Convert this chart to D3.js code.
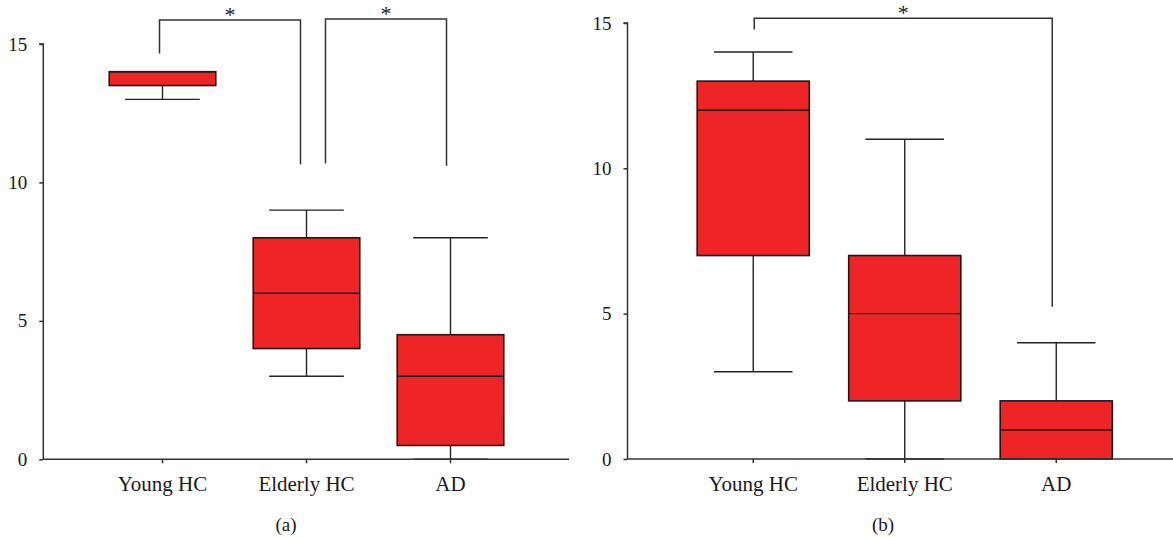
<!DOCTYPE html>
<html>
<head>
<meta charset="utf-8">
<script src="https://cdn.jsdelivr.net/npm/d3@7"></script>
<style>
  body { margin: 0; background: #fff; }
  svg { display: block; }
  text { font-family: "Liberation Serif", "DejaVu Serif", serif; fill: #1a1a1a; }
</style>
</head>
<body>
<script>
// categories shared by both panels
const groups = ['Young HC', 'Elderly HC', 'AD'];
const yTicks = [0, 5, 10, 15];

// panel (a): [min, q1, median, q3, max]
const statsA = [
    [13, 13.5, 14, 14, 14],
    [3, 4, 6, 8, 9],
    [0, 0.5, 3, 4.5, 8]
];
// panel (b)
const statsB = [
    [3, 7, 12, 13, 14],
    [0, 2, 5, 7, 11],
    [0, 0, 1, 2, 4]
];

// significance brackets: from group, to group, top value, left leg end, right leg end
const bracketsA = [
    { from: 'Young HC', to: 'Elderly HC', top: 15.87, left: 14.66, right: 10.66, dl: -3, dr: -6 },
    { from: 'Elderly HC', to: 'AD', top: 15.9, left: 10.68, right: 10.6, dl: 19, dr: -4 }
];
const bracketsB = [
    { from: 'Young HC', to: 'AD', top: 15.16, left: 14.78, right: 5.24, dl: 1, dr: -4 }
];

const svg = d3.select('body')
    .append('svg')
    .attr('width', 1173)
    .attr('height', 537);

function drawPanel(cfg) {
    const g = svg.append('g');

    const x = d3.scaleBand().domain(groups).range(cfg.xRange);
    const y = d3.scaleLinear().domain([0, 15]).range(cfg.yRange);
    const cx = (d) => x(d) + x.bandwidth() / 2;
    const boxW = x.bandwidth() * 0.74;
    const capW = boxW * 0.7;

    const data = groups.map((name, i) => ({
        name,
        min: cfg.stats[i][0],
        q1: cfg.stats[i][1],
        med: cfg.stats[i][2],
        q3: cfg.stats[i][3],
        max: cfg.stats[i][4]
    }));

    // whiskers first so the box sits on top
    const box = g.selectAll('.box')
        .data(data)
        .enter()
        .append('g')
        .attr('class', 'box');

    box.append('line')
        .attr('x1', (d) => cx(d.name)).attr('x2', (d) => cx(d.name))
        .attr('y1', (d) => y(d.min)).attr('y2', (d) => y(d.max))
        .attr('stroke', '#222').attr('stroke-width', 1.4);

    ['min', 'max'].forEach((k) => {
        box.filter((d) => d[k] !== d.q1 && d[k] !== d.q3)
            .append('line')
            .attr('x1', (d) => cx(d.name) - capW / 2).attr('x2', (d) => cx(d.name) + capW / 2)
            .attr('y1', (d) => y(d[k])).attr('y2', (d) => y(d[k]))
            .attr('stroke', '#222').attr('stroke-width', 1.4);
    });

    box.append('rect')
        .attr('x', (d) => cx(d.name) - boxW / 2)
        .attr('width', boxW)
        .attr('y', (d) => y(d.q3))
        .attr('height', (d) => y(d.q1) - y(d.q3))
        .attr('fill', '#ee2426')
        .attr('stroke', '#1a1a1a')
        .attr('stroke-width', 1.6);

    box.append('line')
        .attr('x1', (d) => cx(d.name) - boxW / 2).attr('x2', (d) => cx(d.name) + boxW / 2)
        .attr('y1', (d) => y(d.med)).attr('y2', (d) => y(d.med))
        .attr('stroke', '#1a1a1a').attr('stroke-width', 1.4);

    // axes
    const yAxis = g.append('g')
        .attr('transform', `translate(${cfg.axisX},0)`)
        .call(d3.axisLeft(y).tickValues(yTicks).tickSize(4).tickPadding(12).tickFormat(d3.format('d')));
    yAxis.select('.domain').attr('d', `M-4,${y(15)}H0V${y(0)}`);

    const xAxis = g.append('g')
        .attr('transform', `translate(0,${y(0)})`)
        .call(d3.axisBottom(x).tickSize(4).tickPadding(13));
    xAxis.select('.domain').attr('d', `M${cfg.axisX},0H${cfg.axisEnd}`);

    g.selectAll('.domain, .tick line').attr('stroke', '#333').attr('stroke-width', 1.5);
    yAxis.selectAll('text').attr('font-size', 19).attr('fill', '#1a1a1a');
    xAxis.selectAll('text').attr('font-size', 21).attr('fill', '#1a1a1a');

    // significance brackets
    cfg.brackets.forEach((b) => {
        const xl = cx(b.from) + b.dl;
        const xr = cx(b.to) + b.dr;
        g.append('path')
            .attr('d', `M${xl},${y(b.left)}V${y(b.top)}H${xr}V${y(b.right)}`)
            .attr('fill', 'none')
            .attr('stroke', '#333')
            .attr('stroke-width', 1.5);
        g.append('text')
            .attr('x', (xl + xr) / 2)
            .attr('y', y(b.top) + 2)
            .attr('text-anchor', 'middle')
            .attr('font-size', 22)
            .text('*');
    });

    // panel label
    g.append('text')
        .attr('x', cfg.labelX)
        .attr('y', 531)
        .attr('text-anchor', 'middle')
        .attr('font-size', 19)
        .text(cfg.label);
}

drawPanel({
    stats: statsA,
    brackets: bracketsA,
    xRange: [90.5, 522.5],
    yRange: [459.3, 44],
    axisX: 43.3,
    axisEnd: 569,
    label: '(a)',
    labelX: 286
});

drawPanel({
    stats: statsB,
    brackets: bracketsB,
    xRange: [677.5, 1132],
    yRange: [459, 23],
    axisX: 627.5,
    axisEnd: 1173,
    label: '(b)',
    labelX: 883
});
</script>
</body>
</html>
